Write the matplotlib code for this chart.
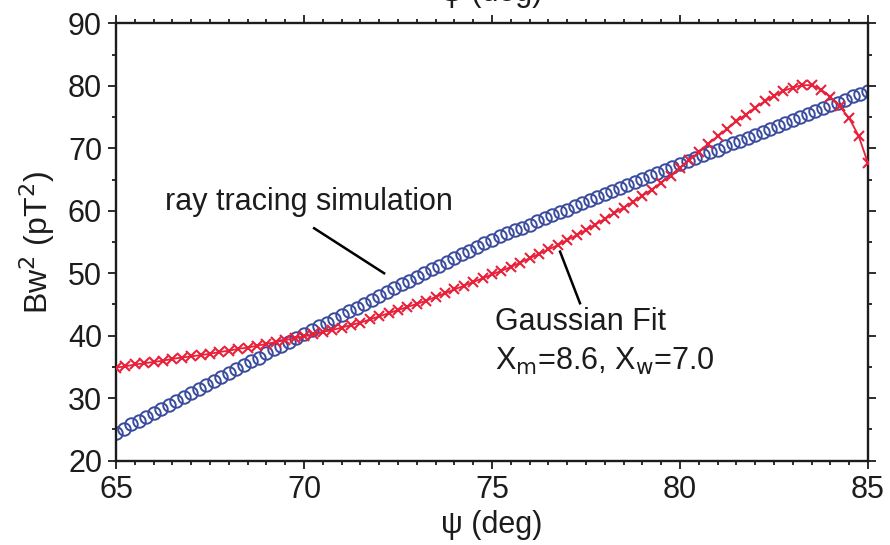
import matplotlib
matplotlib.use("Agg")
import matplotlib.pyplot as plt
import numpy as np
from matplotlib.ticker import MultipleLocator

plt.rcParams['font.family'] = ['Liberation Sans', 'DejaVu Sans']

# ---- data ----
psi_sim = [65.0 + 0.2 * i for i in range(101)]
bw2_sim = [24.5, 25.1, 25.8, 26.4, 27.0, 27.7, 28.3, 28.9, 29.6, 30.2,
           30.8, 31.5, 32.1, 32.7, 33.4, 34.0, 34.6, 35.3, 35.9, 36.5,
           37.2, 37.8, 38.4, 39.0, 39.7, 40.3, 40.9, 41.5, 42.1, 42.7,
           43.3, 43.9, 44.5, 45.1, 45.7, 46.3, 47.0, 47.6, 48.2, 48.8,
           49.4, 50.0, 50.6, 51.2, 51.8, 52.4, 53.0, 53.6, 54.2, 54.8,
           55.4, 55.9, 56.4, 56.9, 57.3, 57.8, 58.3, 58.8, 59.3, 59.8,
           60.2, 60.7, 61.2, 61.7, 62.2, 62.7, 63.2, 63.6, 64.1, 64.6,
           65.1, 65.6, 66.1, 66.5, 67.0, 67.5, 68.0, 68.4, 68.9, 69.4,
           69.8, 70.3, 70.8, 71.2, 71.7, 72.2, 72.6, 73.1, 73.6, 74.1,
           74.5, 75.0, 75.5, 75.9, 76.4, 76.9, 77.3, 77.8, 78.3, 78.7,
           79.2]

psi_fit = [65.0 + 0.25 * i for i in range(81)]
bw2_fit = [34.9, 35.1, 35.4, 35.6, 35.8, 36.0, 36.3, 36.5, 36.7, 36.9,
           37.1, 37.4, 37.6, 37.9, 38.1, 38.4, 38.7, 39.0, 39.3, 39.6,
           39.9, 40.2, 40.6, 40.9, 41.3, 41.7, 42.1, 42.6, 43.1, 43.6,
           44.1, 44.6, 45.1, 45.6, 46.2, 46.8, 47.4, 48.0, 48.6, 49.2,
           49.8, 50.4, 51.0, 51.7, 52.4, 53.1, 53.8, 54.5, 55.3, 56.1,
           56.9, 57.8, 58.7, 59.6, 60.5, 61.4, 62.4, 63.4, 64.5, 65.6,
           66.9, 68.1, 69.4, 70.7, 71.9, 73.1, 74.3, 75.4, 76.5, 77.5,
           78.4, 79.2, 79.7, 80.1, 80.1, 79.4, 78.2, 76.7, 74.8, 72.0,
           67.6]

x_ticks = [65, 70, 75, 80, 85]
y_ticks = [20, 30, 40, 50, 60, 70, 80, 90]

TXT = '#1e1b1c'
BLUE = '#3a4c9e'
RED = '#e8203a'
FS = 22

fig = plt.figure(figsize=(8.9, 5.45), dpi=100)
ax = fig.add_axes([116 / 890, 1 - 460.7 / 545, (868 - 116) / 890, (460.7 - 23.3) / 545])

ax.plot(psi_fit, bw2_fit, color=RED, lw=1.3, marker='x', ms=7, mew=1.5,
        zorder=3)
ax.plot(psi_sim, bw2_sim, linestyle='none', marker='o', ms=9, mfc='none',
        mec=BLUE, mew=1.4, zorder=2)

ax.set_xlim(65, 85)
ax.set_ylim(20, 90)
ax.set_xticks(x_ticks)
ax.set_yticks(y_ticks)
ax.xaxis.set_minor_locator(MultipleLocator(0.5))
ax.yaxis.set_minor_locator(MultipleLocator(5))
ax.tick_params(which='both', direction='out', top=True, right=True,
               width=1.3, color=TXT)
ax.tick_params(which='major', length=6, labelsize=FS, labelcolor=TXT, pad=4)
ax.tick_params(which='minor', length=3.2)
for s in ax.spines.values():
    s.set_linewidth(1.7)
    s.set_color(TXT)

ax.set_xlabel('\u03c8 (deg)', fontsize=FS, color=TXT, labelpad=4)
ax.set_ylabel('Bw$^2$ (pT$^2$)', fontsize=23, color=TXT, labelpad=8)

# annotations
ax.text(66.3, 60.1, 'ray tracing simulation', fontsize=FS, color=TXT,
        va='baseline', ha='left')
ax.plot([70.27, 72.13], [57.2, 50.0], color='black', lw=1.8)
ax.text(75.08, 40.9, 'Gaussian Fit', fontsize=FS, color=TXT,
        va='baseline', ha='left')
ax.text(75.08, 34.5, 'X$_\\mathrm{m}$=8.6, X$_\\mathrm{w}$=7.0', fontsize=FS,
        color=TXT, va='baseline', ha='left')
ax.plot([76.81, 77.34], [53.46, 45.2], color='black', lw=1.8)

# cut-off label of the panel above (shown cut at the top edge in the original)
fig.text(492 / 890, 1 - 1.5 / 545, '\u03c8 (deg)', fontsize=FS, color=TXT,
         ha='center', va='baseline')

fig.savefig('out.png', dpi=100)
